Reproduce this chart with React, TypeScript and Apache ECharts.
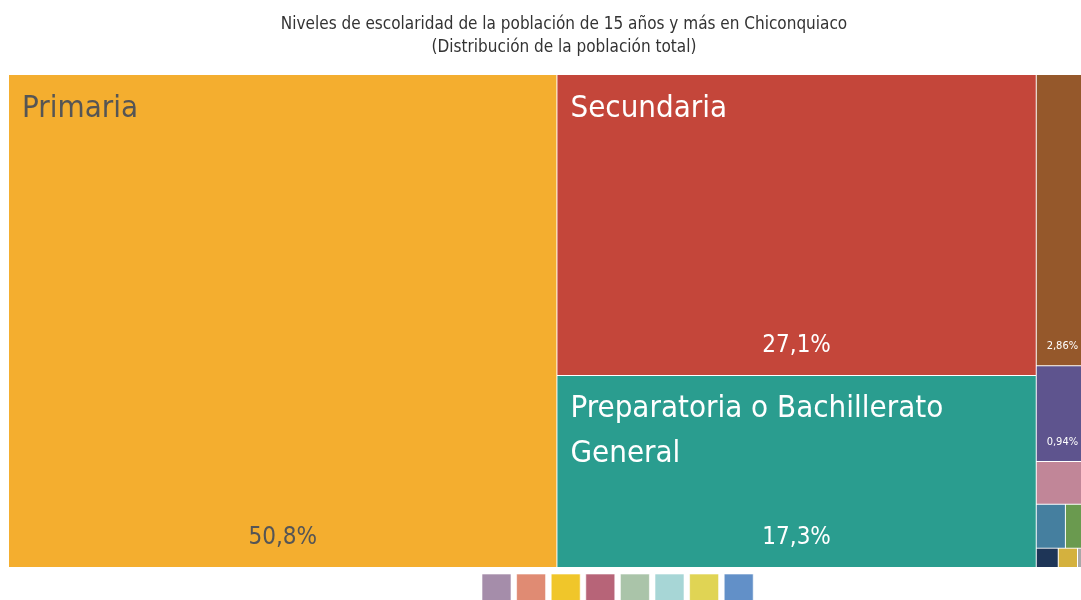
import React, { useEffect, useRef } from 'react';
import * as echarts from 'echarts';

const titleLines = [
  'Niveles de escolaridad de la población de 15 años y más en Chiconquiaco',
  '(Distribución de la población total)',
];
const names = [
  'Primaria',
  'Secundaria',
  'Preparatoria o Bachillerato General',
  'Licenciatura',
  'Bachillerato Tecnológico',
  'Normal de Licenciatura',
  'Estudios Técnicos o Comerciales con Secundaria Terminada',
  'Preescolar',
  'Maestría',
  'Estudios Técnicos o Comerciales con Preparatoria Terminada',
  'Normal con Primaria o Secundaria Terminada',
];
const values = [50.8, 27.1, 17.3, 2.86, 0.94, 0.42, 0.24, 0.19, 0.08, 0.07, 0.04];
const colors = ['#f4ae2f', '#c4463a', '#2a9d8f', '#95582b', '#5e548e', '#c18698', '#457f9f', '#6a9a4f', '#1e3557', '#d4b13e', '#a8a8a8'];
const darkLabelNames = ['Primaria'];
const legendColors = ['#a58daa', '#e08b73', '#f0c62a', '#b76478', '#aac4a9', '#a7d6d6', '#e0d454', '#6290c8'];

const FONT = '"Liberation Sans Narrow", "DejaVu Sans Condensed", "Noto Sans", sans-serif';

const total = values.reduce((a, b) => a + b, 0);
const share = (v: number) => (v / total) * 100;
const fmtShare = (v: number) => {
  const p = share(v);
  return (p >= 10 ? p.toFixed(1) : p.toFixed(2)).replace('.', ',') + '%';
};

export default function App() {
  const ref = useRef<HTMLDivElement>(null);
  useEffect(() => {
    if (!ref.current) return;
    const chart = echarts.init(ref.current, undefined, { renderer: 'svg' });
    const box = { left: 9, top: 75, width: 1079, height: 492 };
    const baseData = names.map((n, i) => ({
      name: n,
      value: values[i],
      itemStyle: { color: colors[i] },
    }));
    const overlayData = names.map((n, i) => ({ name: n, value: values[i] }));
    const common = {
      type: 'treemap',
      ...box,
      roam: false,
      nodeClick: false,
      breadcrumb: { show: false },
      animation: false,
      squareRatio: 0.5 * (1 + Math.sqrt(5)),
    };
    chart.setOption({
      animation: false,
      title: {
        text: titleLines.join('\n'),
        left: 559,
        top: 6,
        textAlign: 'center',
        textStyle: {
          fontFamily: FONT,
          fontSize: 17,
          fontWeight: 'normal',
          color: '#333',
          lineHeight: 23,
        },
      },
      graphic: legendColors.map((c, i) => ({
        type: 'rect',
        shape: { x: 482 + i * 34.6, y: 574, width: 29, height: 29 },
        style: { fill: c, stroke: 'rgba(255,255,255,0.6)', lineWidth: 1 },
        silent: true,
      })),
      series: [
        {
          ...common,
          data: baseData,
          levels: [
            { itemStyle: { gapWidth: 1, borderWidth: 0, borderColor: '#fff' } },
          ],
          itemStyle: { borderWidth: 0, gapWidth: 1, borderColor: '#fff' },
          label: {
            show: true,
            position: 'insideTopLeft',
            padding: [8, 13, 0, 13],
            overflow: 'break',
            fontFamily: FONT,
            fontSize: 31,
            lineHeight: 45,
            formatter: (p: any) => {
              if (share(p.value) < 5) return '';
              const dark = darkLabelNames.includes(p.name);
              return `{${dark ? 'd' : 'w'}|${p.name}}`;
            },
            rich: {
              d: { color: '#555', fontFamily: FONT, fontSize: 31, lineHeight: 45 },
              w: { color: '#fff', fontFamily: FONT, fontSize: 31, lineHeight: 45 },
            },
          },
        },
        {
          ...common,
          silent: true,
          data: overlayData,
          color: ['rgba(0,0,0,0)'],
          levels: [
            { itemStyle: { gapWidth: 1, borderWidth: 0, color: 'rgba(0,0,0,0)' } },
          ],
          itemStyle: { color: 'rgba(0,0,0,0)', borderWidth: 0, gapWidth: 1 },
          label: {
            show: true,
            position: 'insideTop',
            overflow: 'none',
            fontFamily: FONT,
            formatter: (p: any) => {
              const s = share(p.value);
              if (s < 0.5) return '';
              const dark = darkLabelNames.includes(p.name);
              if (s >= 5) return `{${dark ? 'bd' : 'bw'}|${fmtShare(p.value)}}`;
              return `{sw|${fmtShare(p.value)}}`;
            },
            rich: {
              bd: { color: '#555', fontFamily: FONT, fontSize: 24, lineHeight: 26 },
              bw: { color: '#fff', fontFamily: FONT, fontSize: 24, lineHeight: 26 },
              sw: { color: '#fff', fontFamily: FONT, fontSize: 11, lineHeight: 12 },
            },
          },
          labelLayout: (p: any) => {
            const r = p.rect;
            const big = r.width > 100;
            return {
              x: r.x + r.width / 2,
              y: r.y + r.height - (big ? 49 : 31),
              align: 'center',
              verticalAlign: 'top',
            };
          },
        },
      ],
    });
    return () => chart.dispose();
  }, []);
  return (
    <div
      ref={ref}
      style={{ position: 'fixed', left: 0, top: 0, width: 1081, height: 600 }}
    />
  );
}
